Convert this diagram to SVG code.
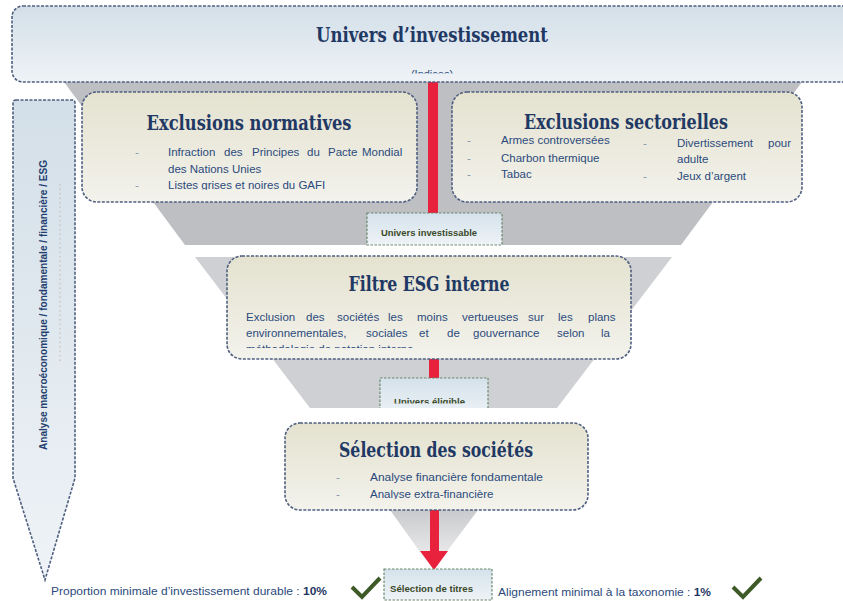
<svg xmlns="http://www.w3.org/2000/svg" width="843" height="601" viewBox="0 0 843 601">
<defs>
<linearGradient id="gBlue" x1="0" y1="0" x2="0" y2="1"><stop offset="0" stop-color="#d3dfe8"/><stop offset="1" stop-color="#eff3f7"/></linearGradient>
<linearGradient id="gBeige" x1="0" y1="0" x2="0" y2="1"><stop offset="0" stop-color="#e4e2cf"/><stop offset="1" stop-color="#f3f2ec"/></linearGradient>
<linearGradient id="gSmall" x1="0" y1="0" x2="0" y2="1"><stop offset="0" stop-color="#d5e2eb"/><stop offset="1" stop-color="#eef3f7"/></linearGradient>
<linearGradient id="gFade" x1="0" y1="0" x2="0" y2="1"><stop offset="0" stop-color="#c9cacd"/><stop offset="1" stop-color="#f4f4f4"/></linearGradient>
<clipPath id="cIndices"><rect x="0" y="0" width="843" height="73.5"/></clipPath>
<clipPath id="cFiltre"><rect x="0" y="0" width="843" height="348"/></clipPath>
<clipPath id="cElig"><rect x="0" y="0" width="843" height="408"/></clipPath>
<clipPath id="cEligTxt"><rect x="0" y="0" width="843" height="403.5"/></clipPath>
<clipPath id="cGafi"><rect x="0" y="0" width="843" height="190"/></clipPath>
<clipPath id="cAnal"><rect x="0" y="0" width="843" height="499"/></clipPath>
<style>
.box{fill:url(#gBeige);stroke:#4f5f80;stroke-width:1.6;stroke-dasharray:3 1.5}
.blue{fill:url(#gBlue);stroke:#4f5f80;stroke-width:1.6;stroke-dasharray:3 1.5}
.small{fill:url(#gSmall);stroke:#6d876f;stroke-width:1.2;stroke-dasharray:2.5 1.5}
.title{font-family:"DejaVu Serif","Liberation Serif",serif;font-weight:bold;font-stretch:condensed;fill:#1f3864;text-anchor:middle}
.body{font-family:"Liberation Sans",Arial,sans-serif;font-size:11.5px;fill:#2b4a7c}
.dash{font-family:"Liberation Sans",Arial,sans-serif;font-size:11.5px;fill:#8594ae}
.lab{font-family:"Liberation Sans",Arial,sans-serif;font-size:8.5px;font-weight:bold;fill:#3b4a2a}
.bot{font-family:"Liberation Sans",Arial,sans-serif;font-size:11px;fill:#2b4a7c}
.red{fill:#e8213c}
.chk{fill:none;stroke:#3d5a27;stroke-width:4;stroke-linecap:butt;stroke-linejoin:miter}
</style>
</defs>

<g id="funnel">
<polygon points="64,82 802,82 681,245 185,245" fill="#bebfc3"/>
<polygon points="195,257 672,257 557,408 310,408" fill="#cfd0d3"/>
<polygon points="390,510 478,510 433,570" fill="url(#gFade)"/>
</g>

<g id="connectors">
<rect class="red" x="428" y="80" width="10" height="134"/>
<rect class="red" x="429" y="358" width="10" height="21"/>
<rect class="red" x="430" y="509" width="9" height="43"/>
<polygon class="red" points="420,551 448,551 434,570"/>
</g>

<g id="univers">
<rect class="blue" x="12" y="6" width="850" height="76" rx="11"/>
<text class="title" x="432" y="42" font-size="21" textLength="232" lengthAdjust="spacingAndGlyphs">Univers d’investissement</text>
<text clip-path="url(#cIndices)" x="432" y="78" font-family="Liberation Sans,Arial,sans-serif" font-size="11" fill="#2b4a7c" text-anchor="middle">(Indices)</text>
</g>

<g id="analyse">
<path class="blue" d="M16,100 H72 Q75,100 75,103 V478 L45,580 L13,478 V103 Q13,100 16,100 Z"/>
<text transform="translate(47,305) rotate(-90)" x="0" y="0" text-anchor="middle" font-family="Liberation Sans,Arial,sans-serif" font-size="10" font-weight="bold" fill="#243f6e" textLength="290" lengthAdjust="spacingAndGlyphs">Analyse macroéconomique / fondamentale / financière / ESG</text>
<line x1="60" y1="184" x2="60" y2="362" stroke="#c2b6a8" stroke-width="1" stroke-dasharray="1.5 3"/>
</g>

<g id="exclusions-normatives">
<rect class="box" x="82" y="92" width="335" height="110" rx="15"/>
<text class="title" x="249" y="130" font-size="20" textLength="205" lengthAdjust="spacingAndGlyphs">Exclusions normatives</text>
<text class="dash" x="135" y="156">-</text>
<text class="body" y="156"><tspan x="168">Infraction </tspan><tspan x="224">des </tspan><tspan x="252">Principes </tspan><tspan x="307">du </tspan><tspan x="328">Pacte </tspan><tspan x="362">Mondial</tspan></text>
<text class="body" x="168" y="173">des Nations Unies</text>
<text class="dash" x="135" y="189">-</text>
<text class="body" x="168" y="189" clip-path="url(#cGafi)">Listes grises et noires du GAFI</text>
</g>

<g id="exclusions-sectorielles">
<rect class="box" x="452" y="92" width="350" height="110" rx="15"/>
<text class="title" x="626" y="129" font-size="20" textLength="204" lengthAdjust="spacingAndGlyphs">Exclusions sectorielles</text>
<text class="dash" x="467" y="144">-</text>
<text class="body" x="501" y="144">Armes controversées</text>
<text class="dash" x="467" y="162">-</text>
<text class="body" x="501" y="162">Charbon thermique</text>
<text class="dash" x="467" y="178">-</text>
<text class="body" x="501" y="178">Tabac</text>
<text class="dash" x="643" y="147">-</text>
<text class="body" y="147"><tspan x="677">Divertissement </tspan><tspan x="768">pour</tspan></text>
<text class="body" x="677" y="163">adulte</text>
<text class="dash" x="643" y="180">-</text>
<text class="body" x="677" y="180">Jeux d’argent</text>
</g>

<g id="univers-investissable">
<rect class="small" x="367" y="213" width="135" height="32"/>
<text class="lab" x="381" y="236" textLength="96" lengthAdjust="spacingAndGlyphs">Univers investissable</text>
</g>

<g id="filtre-esg">
<rect class="box" x="227" y="256" width="404" height="103" rx="15"/>
<text class="title" x="429" y="291" font-size="20" textLength="161" lengthAdjust="spacingAndGlyphs">Filtre ESG interne</text>
<text class="body" y="321"><tspan x="246">Exclusion </tspan><tspan x="306">des </tspan><tspan x="337">sociétés </tspan><tspan x="388">les </tspan><tspan x="417">moins </tspan><tspan x="462">vertueuses </tspan><tspan x="528">sur </tspan><tspan x="558">les </tspan><tspan x="588">plans</tspan></text>
<text class="body" y="337"><tspan x="246">environnementales, </tspan><tspan x="366">sociales </tspan><tspan x="419">et </tspan><tspan x="447">de </tspan><tspan x="473">gouvernance </tspan><tspan x="557">selon </tspan><tspan x="601">la</tspan></text>
<text class="body" x="246" y="353" clip-path="url(#cFiltre)">méthodologie de notation interne</text>
</g>

<g id="univers-eligible" clip-path="url(#cElig)">
<rect class="small" x="380" y="378" width="108" height="40"/>
<text class="lab" x="394" y="405" clip-path="url(#cEligTxt)" font-size="9" textLength="71" lengthAdjust="spacingAndGlyphs">Univers éligible</text>
</g>

<g id="selection-societes">
<rect class="box" x="285" y="423" width="303" height="87" rx="15"/>
<text class="title" x="436" y="457" font-size="20" textLength="194" lengthAdjust="spacingAndGlyphs">Sélection des sociétés</text>
<text class="dash" x="336" y="481">-</text>
<text class="body" x="370" y="481" textLength="173" lengthAdjust="spacingAndGlyphs">Analyse financière fondamentale</text>
<text class="dash" x="336" y="498">-</text>
<text class="body" x="370" y="498" clip-path="url(#cAnal)">Analyse extra-financière</text>
</g>

<g id="selection-titres">
<rect class="small" x="384" y="569" width="108" height="31"/>
<text class="lab" x="390" y="592" textLength="83" lengthAdjust="spacingAndGlyphs">Sélection de titres</text>
</g>

<g id="proportion">
<text class="bot" x="51" y="595" textLength="276" lengthAdjust="spacingAndGlyphs">Proportion minimale d’investissement durable : <tspan font-weight="bold" fill="#1f3864">10%</tspan></text>
<path class="chk" d="M352,587 L362,597 L380,578"/>
</g>

<g id="alignement">
<text class="bot" x="498" y="596" textLength="213" lengthAdjust="spacingAndGlyphs">Alignement minimal à la taxonomie : <tspan font-weight="bold" fill="#1f3864">1%</tspan></text>
<path class="chk" d="M733,587 L743,597 L761,578"/>
</g>
</svg>
